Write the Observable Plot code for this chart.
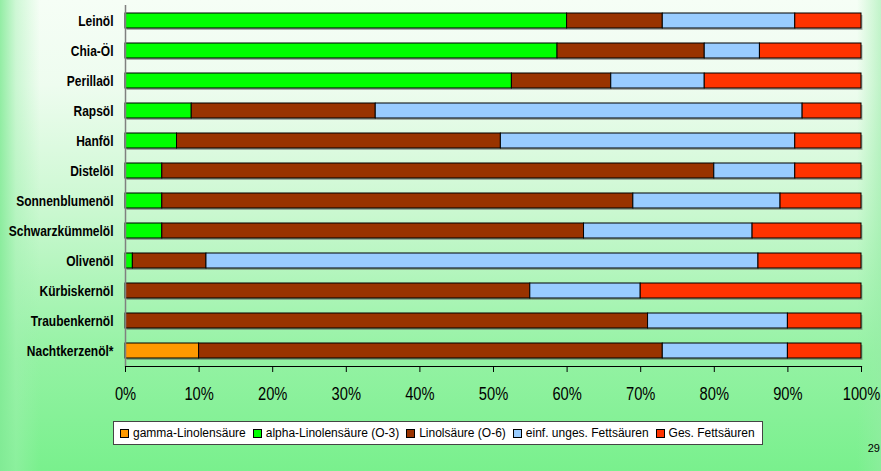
<!DOCTYPE html>
<html><head><meta charset="utf-8">
<script src="https://cdn.jsdelivr.net/npm/d3@7"></script>
<script src="https://cdn.jsdelivr.net/npm/@observablehq/plot@0.6"></script>
<style>
html,body{margin:0;padding:0;}
body{width:881px;height:471px;overflow:hidden;position:relative;font-family:"Liberation Sans",Arial,sans-serif;
background:
 linear-gradient(to right, rgba(130,234,150,0.85) 0px, rgba(160,240,175,0.45) 16px, rgba(210,250,215,0) 40px),
 linear-gradient(to left, rgba(150,236,165,0.55) 0px, rgba(210,250,215,0) 24px),
 linear-gradient(to bottom, #f6fef6 0%, #eefcef 18%, #caf8d0 45%, #95f2a4 75%, #79f08d 100%);}
#chart{position:absolute;left:0;top:0;}
#legend{position:absolute;left:113px;top:421px;width:650px;height:24px;background:#fff;border:1px solid #444;
 display:flex;align-items:center;font-size:12px;padding-left:6px;box-sizing:border-box;color:#000;white-space:nowrap;}
#legend .it{display:flex;align-items:center;margin-right:7px;}
#legend .sw{width:7px;height:7px;border:1px solid #000;margin-right:4px;}
#page{position:absolute;right:1px;top:442px;font-size:11px;color:#000;}
</style>
</head><body>
<div id="chart"></div>
<div id="legend"></div>
<div id="page">29</div>
<script>
const oils = ["Leinöl","Chia-Öl","Perillaöl","Rapsöl","Hanföl","Distelöl","Sonnenblumenöl","Schwarzkümmelöl","Olivenöl","Kürbiskernöl","Traubenkernöl","Nachtkerzenöl*"];
const seriesNames = ["gamma-Linolensäure","alpha-Linolensäure (O-3)","Linolsäure (O-6)","einf. unges. Fettsäuren","Ges. Fettsäuren"];
const seriesColors = ["#FF9900","#00FF00","#993300","#99CCFF","#FF3300"];
const gammaLinolen = [0,0,0,0,0,0,0,0,0,0,0,10];
const alphaLinolen = [60,58.7,52.5,9,7,5,5,5,1,0,0,0];
const linolsaeure  = [13,20,13.5,25,44,75,64,57.3,10,55,71,63];
const einfUnges    = [18,7.5,12.7,58,40,11,20,22.9,75,15,19,17];
const gesFett      = [9,13.8,21.3,8,9,9,11,14.8,14,30,10,10];
const xTicks = [0,10,20,30,40,50,60,70,80,90,100];
const xTickLabels = ["0%","10%","20%","30%","40%","50%","60%","70%","80%","90%","100%"];

const seriesValues = [gammaLinolen, alphaLinolen, linolsaeure, einfUnges, gesFett];
const rows = [];
oils.forEach((oil, i) => seriesNames.forEach((s, j) => {
  const v = seriesValues[j][i];
  if (v > 0) rows.push({oil, series: s, value: v});
}));

const chart = Plot.plot({
  width: 881, height: 412,
  marginLeft: 125, marginRight: 20, marginTop: 5, marginBottom: 46,
  style: {background: "transparent", fontFamily: "Liberation Sans, Arial, sans-serif", color: "#000", overflow: "visible"},
  x: {domain: [0, 100]},
  y: {domain: oils, paddingInner: 0.5, paddingOuter: 0.25},
  color: {domain: seriesNames, range: seriesColors},
  marks: [
    Plot.barX(rows, Plot.stackX({x: "value", y: "oil", z: "series", order: seriesNames, fill: "#555", fillOpacity: 0.45, dx: 1.5, dy: 2})),
    Plot.barX(rows, Plot.stackX({x: "value", y: "oil", z: "series", order: seriesNames, fill: "series", stroke: "#000", strokeWidth: 1})),
    Plot.ruleX([0], {stroke: "#808080", strokeWidth: 1.5}),
    Plot.frame({anchor: "bottom", stroke: "#000", strokeWidth: 1.2}),
    Plot.axisY({tickSize: 0, tickPadding: 12, fontSize: 15, fontWeight: "bold", label: null}),
    Plot.axisX({ticks: xTicks, tickFormat: (d) => xTickLabels[xTicks.indexOf(d)], tickSize: 6, tickPadding: 15, fontSize: 17.5, label: null, stroke: "#000"})
  ]
});
document.getElementById("chart").appendChild(chart);

function squish(sel, k) {
  sel.each(function() {
    const el = d3.select(this);
    let t = el.attr("transform");
    if (!t) {
      const x = +el.attr("x") || 0, y = +el.attr("y") || 0;
      el.attr("x", null).attr("y", null);
      t = `translate(${x},${y})`;
    }
    el.attr("transform", `${t} scale(${k},1)`);
  });
}
squish(d3.select(chart).selectAll('g[aria-label="y-axis tick label"] text'), 0.8);
squish(d3.select(chart).selectAll('g[aria-label="x-axis tick label"] text'), 0.84);

const legend = d3.select("#legend");
seriesNames.forEach((s, j) => {
  const it = legend.append("div").attr("class", "it");
  it.append("div").attr("class", "sw").style("background", seriesColors[j]);
  it.append("span").text(s);
});
</script>
</body></html>
